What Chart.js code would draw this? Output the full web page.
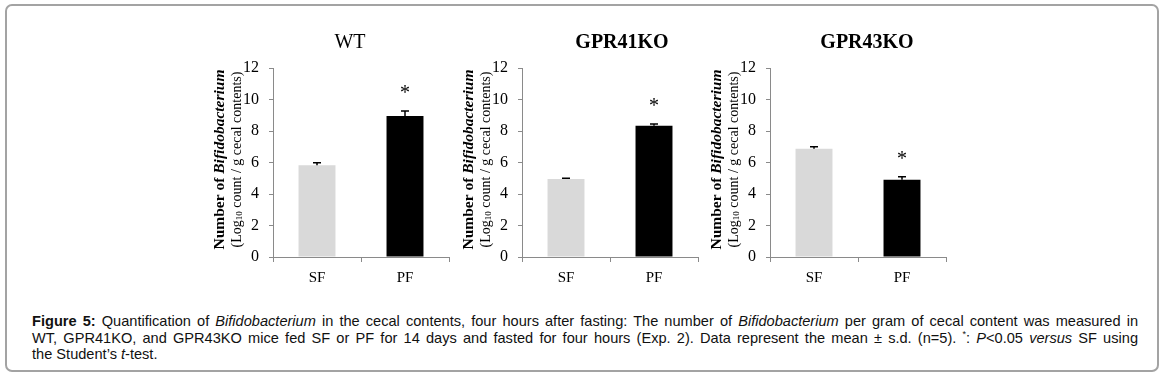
<!DOCTYPE html>
<html>
<head>
<meta charset="utf-8">
<script src="https://cdn.jsdelivr.net/npm/chart.js@4/dist/chart.umd.min.js"></script>
<style>
  html, body { margin: 0; padding: 0; background: #fff; }
  body { width: 1163px; height: 376px; position: relative; overflow: hidden; }
  #frame {
    position: absolute; left: 5px; top: 4px; width: 1150px; height: 364px;
    border: 2px solid #a3a3a3; border-radius: 7px;
  }
  .panel { position: absolute; top: 20px; width: 255px; height: 270px; }
  #caption {
    position: absolute; left: 32px; top: 313px; width: 1106px;
    font: 14.6px "Liberation Sans", Arial, sans-serif; line-height: 16.6px;
    color: #111;
  }
  #caption span { display: block; white-space: nowrap; }
  #caption span.j { text-align: justify; text-align-last: justify; }
  #caption sup { font-size: 9px; line-height: 0; }
</style>
</head>
<body>
<div id="frame"></div>
<div class="panel" style="left:205px"><canvas id="c0"></canvas></div>
<div class="panel" style="left:454px"><canvas id="c1"></canvas></div>
<div class="panel" style="left:702px"><canvas id="c2"></canvas></div>
<div id="caption"><span class="j"><b>Figure 5:</b> Quantification of <i>Bifidobacterium</i> in the cecal contents, four hours after fasting: The number of <i>Bifidobacterium</i> per gram of cecal content was measured in</span><span class="j">WT, GPR41KO, and GPR43KO mice fed SF or PF for 14 days and fasted for four hours (Exp. 2). Data represent the mean ± s.d. (n=5). <sup>*</sup>: <i>P</i>&lt;0.05 <i>versus</i> SF using</span><span>the Student’s <i>t</i>-test.</span></div>

<script>
// data
const groups = ["WT", "GPR41KO", "GPR43KO"];
const categories = ["SF", "PF"];
const sfMeans = [5.83, 4.95, 6.88];
const pfMeans = [8.95, 8.34, 4.9];
const sfSD = [0.15, 0.05, 0.12];
const pfSD = [0.32, 0.1, 0.2];
const pfSignificant = [true, true, true];
const yTicks = [0, 2, 4, 6, 8, 10, 12];

const serif = '"Liberation Serif", "Times New Roman", serif';
const axisGrey = "#8a8a8a";

// title above each panel (WT is not bold in the original)
const titleBold = [false, true, true];
const titleShift = [-11, 12, 9];

// error bars + asterisks
const errorBarPlugin = {
  id: "errorBars",
  afterDatasetsDraw(chart, args, opts) {
    const ctx = chart.ctx;
    const y = chart.scales.y;
    const meta = chart.getDatasetMeta(0);
    ctx.save();
    ctx.strokeStyle = "#000";
    ctx.lineWidth = 1.5;
    meta.data.forEach((bar, i) => {
      const v = chart.data.datasets[0].data[i];
      const top = y.getPixelForValue(v + opts.sd[i]);
      const mid = y.getPixelForValue(v);
      ctx.beginPath();
      ctx.moveTo(bar.x, mid);
      ctx.lineTo(bar.x, top);
      ctx.moveTo(bar.x - 4, top);
      ctx.lineTo(bar.x + 4, top);
      ctx.stroke();
      if (opts.stars[i]) {
        ctx.fillStyle = "#000";
        ctx.font = "20px " + serif;
        ctx.textAlign = "center";
        ctx.textBaseline = "alphabetic";
        ctx.fillText("*", bar.x, top - 12);
      }
    });
    ctx.restore();
  },
};

// rotated two-line y title with mixed styles, plus panel title
const sideTextPlugin = {
  id: "sideText",
  afterDraw(chart, args, opts) {
    const ctx = chart.ctx;
    const a = chart.chartArea;
    const cy = (a.top + a.bottom) / 2 - 3;
    ctx.save();
    ctx.fillStyle = "#000";
    ctx.textBaseline = "middle";

    // panel title
    ctx.textAlign = "center";
    ctx.font = (opts.bold ? "bold " : "") + "20px " + serif;
    ctx.fillText(opts.title, (a.left + a.right) / 2 + opts.shift, 23);

    // line 1
    ctx.translate(a.left - 53, cy);
    ctx.rotate(-Math.PI / 2);
    ctx.textAlign = "left";
    const p1 = "Number of ", p2 = "Bifidobacterium";
    ctx.font = "bold 15.5px " + serif;
    const w1 = ctx.measureText(p1).width;
    ctx.font = "italic bold 15.5px " + serif;
    const w2 = ctx.measureText(p2).width;
    let x = -(w1 + w2) / 2;
    ctx.font = "bold 15.5px " + serif;
    ctx.fillText(p1, x, 0);
    ctx.font = "italic bold 15.5px " + serif;
    ctx.fillText(p2, x + w1, 0);

    // line 2 with subscript
    const q1 = "(Log", q2 = "10", q3 = " count / g cecal contents)";
    ctx.font = "14px " + serif;
    const v1 = ctx.measureText(q1).width, v3 = ctx.measureText(q3).width;
    ctx.font = "9px " + serif;
    const v2 = ctx.measureText(q2).width;
    x = -(v1 + v2 + v3) / 2;
    ctx.font = "14px " + serif;
    ctx.fillText(q1, x, 17);
    ctx.font = "9px " + serif;
    ctx.fillText(q2, x + v1, 20);
    ctx.font = "14px " + serif;
    ctx.fillText(q3, x + v1 + v2, 17);
    ctx.restore();
  },
};

groups.forEach((g, i) => {
  new Chart(document.getElementById("c" + i), {
    type: "bar",
    data: {
      labels: categories,
      datasets: [{
        data: [sfMeans[i], pfMeans[i]],
        backgroundColor: ["#d9d9d9", "#000000"],
        borderWidth: 0,
        barPercentage: 0.42,
        categoryPercentage: 1,
      }],
    },
    options: {
      responsive: true,
      maintainAspectRatio: false,
      animation: false,
      layout: { padding: { left: 38, right: 11, top: 48, bottom: 0 } },
      plugins: {
        legend: { display: false },
        tooltip: { enabled: false },
        title: { display: false },
        errorBars: { sd: [sfSD[i], pfSD[i]], stars: [false, pfSignificant[i]] },
        sideText: { title: g, bold: titleBold[i], shift: titleShift[i] },
      },
      scales: {
        x: {
          grid: { offset: true, drawOnChartArea: false, color: axisGrey, tickLength: 5 },
          border: { color: axisGrey, width: 1 },
          ticks: { color: "#000", font: { family: serif, size: 15 }, padding: 7 },
          afterFit: (s) => { s.height = 33; },
        },
        y: {
          min: 0, max: 12,
          afterBuildTicks: (s) => { s.ticks = yTicks.map((v) => ({ value: v })); },
          grid: { drawOnChartArea: false, color: axisGrey, tickLength: 4 },
          border: { color: axisGrey, width: 1 },
          ticks: { color: "#000", font: { family: serif, size: 16 }, padding: 10 },
          afterFit: (s) => { s.width = 30; },
        },
      },
    },
    plugins: [errorBarPlugin, sideTextPlugin],
  });
});
</script>
</body>
</html>
